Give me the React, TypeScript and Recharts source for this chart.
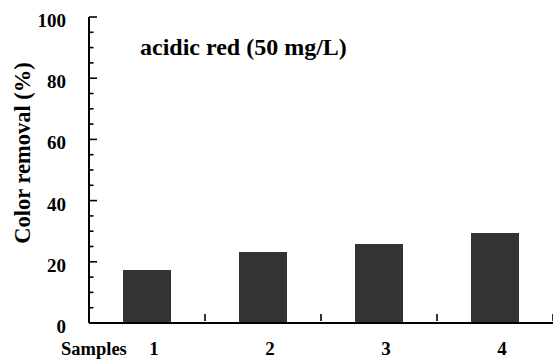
import { Bar, BarChart, Label, XAxis, YAxis } from 'recharts'

const samples = ['1', '2', '3', '4']
const removal = [17.3, 23.2, 25.8, 29.4]
const yTicks = [0, 5, 10, 15, 20, 25, 30, 35, 40, 45, 50, 55, 60, 65, 70, 75, 80, 85, 90, 95, 100]
const yLabelTicks = [0, 20, 40, 60, 80, 100]

const data = samples.map((s, i) => ({ sample: s, removal: removal[i] }))

const W = 553
const H = 363
const AXIS_W = 89
const XAXIS_H = 40
const FONT = "'Liberation Serif', 'Times New Roman', Times, serif"
const halfBand = (W - AXIS_W) / samples.length / 2

const txt = (size: number) => ({ fontFamily: FONT, fontWeight: 700, fontSize: size, fill: '#000' })

function YTick({ x, y, payload }: any) {
  const major = yLabelTicks.includes(payload.value)
  return (
    <g>
      <line x1={x} x2={x + (major ? 8 : 4.5)} y1={y} y2={y} stroke="#000" strokeWidth={1.6} />
      {major && (
        <text x={66} y={y + 10} textAnchor="end" style={txt(19)}>
          {payload.value}
        </text>
      )}
    </g>
  )
}

function XTick({ x, y, payload }: any) {
  return (
    <g>
      <line x1={x + halfBand} x2={x + halfBand} y1={y - 9} y2={y - 2} stroke="#000" strokeWidth={1.6} />
      <text x={x + 7} y={y + 32} textAnchor="middle" style={txt(19)}>
        {payload.value}
      </text>
    </g>
  )
}

export default function App() {
  return (
    <div style={{ position: 'fixed', left: 0, top: 0, background: '#fff' }}>
      <BarChart width={W} height={H} data={data} margin={{ top: 17, right: 0, bottom: 0, left: 0 }}>
        <XAxis
          dataKey="sample"
          height={XAXIS_H}
          tickSize={0}
          tickMargin={0}
          tickLine={false}
          axisLine={{ stroke: '#000', strokeWidth: 2 }}
          tick={<XTick />}
          interval={0}
        >
          <Label
            content={() => (
              <text x={61} y={355} style={txt(18.5)}>
                Samples
              </text>
            )}
          />
        </XAxis>
        <YAxis
          type="number"
          domain={[0, 100]}
          ticks={yTicks}
          interval={0}
          width={AXIS_W}
          tickSize={0}
          tickMargin={0}
          tickLine={false}
          axisLine={{ stroke: '#000', strokeWidth: 2 }}
          tick={<YTick />}
        >
          <Label
            content={() => (
              <g>
                <text
                  x={22}
                  y={153}
                  transform="rotate(-90, 22, 153)"
                  textAnchor="middle"
                  dominantBaseline="central"
                  style={txt(22.5)}
                >
                  Color removal (%)
                </text>
                <text x={140} y={55} style={txt(24)}>
                  acidic red (50 mg/L)
                </text>
              </g>
            )}
          />
        </YAxis>
        <Bar dataKey="removal" fill="#333333" barSize={48} isAnimationActive={false} />
      </BarChart>
    </div>
  )
}
